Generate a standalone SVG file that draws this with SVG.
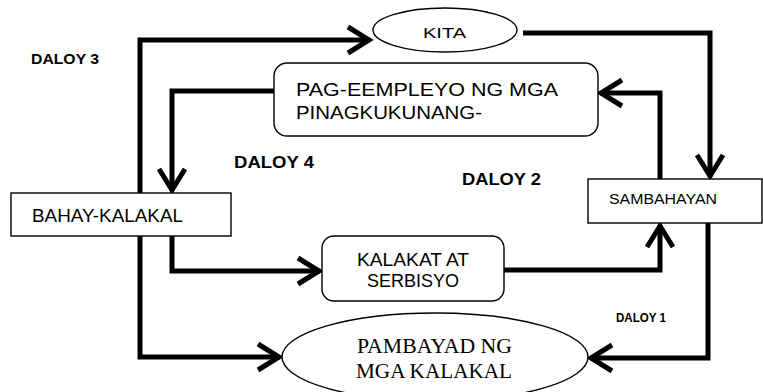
<svg xmlns="http://www.w3.org/2000/svg" width="763" height="392" viewBox="0 0 763 392">
  <style>
    .node { fill: #ffffff; stroke: #000000; stroke-width: 1.4; }
    .sans { font-family: "Liberation Sans", Arial, sans-serif; fill: #000000; }
    .serif { font-family: "Liberation Serif", "Times New Roman", serif; fill: #000000; }
    .bold { font-weight: bold; }
    .flow { fill: none; stroke: #000000; stroke-width: 5; stroke-linejoin: miter; marker-end: url(#chev); }
  </style>
  <defs>
    <marker id="chev" markerUnits="userSpaceOnUse" markerWidth="40" markerHeight="40" viewBox="-30 -20 40 40" refX="0" refY="0" orient="auto" overflow="visible">
      <path d="M-22,-13 L-1,0 L-22,13" fill="none" stroke="#000000" stroke-width="5" stroke-linejoin="miter"/>
    </marker>
  </defs>

  <rect width="763" height="392" fill="#ffffff"/>

  <g id="connectors">
    <path class="flow" d="M140,193 V40 H370"/>
    <path class="flow" d="M140,236 V357 H280"/>
    <path class="flow" d="M274,91 H172 V191"/>
    <path class="flow" d="M172,236 V271 H320"/>
    <path class="flow" d="M523,33 H710 V177"/>
    <path class="flow" d="M660,179 V93 H600"/>
    <path class="flow" d="M504,270 H660 V225"/>
    <path class="flow" d="M708,223 V358 H590"/>
  </g>

  <g id="kita">
    <ellipse class="node" cx="445" cy="30" rx="72" ry="22"/>
    <text class="sans" x="423" y="38" font-size="15" textLength="43" lengthAdjust="spacingAndGlyphs">KITA</text>
  </g>

  <g id="pag-eempleyo">
    <rect class="node" x="274" y="63" width="324" height="73" rx="13" ry="13"/>
    <text class="sans" x="296" y="96" font-size="19" textLength="262" lengthAdjust="spacingAndGlyphs">PAG-EEMPLEYO NG MGA</text>
    <text class="sans" x="296" y="119" font-size="19" textLength="186" lengthAdjust="spacingAndGlyphs">PINAGKUKUNANG-</text>
  </g>

  <g id="bahay-kalakal">
    <rect class="node" x="11" y="193" width="220" height="43"/>
    <text class="sans" x="32" y="222" font-size="18" textLength="151" lengthAdjust="spacingAndGlyphs">BAHAY-KALAKAL</text>
  </g>

  <g id="sambahayan">
    <rect class="node" x="588" y="179" width="174" height="44"/>
    <text class="sans" x="609" y="204" font-size="15" textLength="108" lengthAdjust="spacingAndGlyphs">SAMBAHAYAN</text>
  </g>

  <g id="kalakat-at-serbisyo">
    <rect class="node" x="322" y="236" width="182" height="65" rx="12" ry="12"/>
    <text class="sans" x="357" y="266" font-size="18" textLength="112" lengthAdjust="spacingAndGlyphs">KALAKAT AT</text>
    <text class="sans" x="367" y="287" font-size="18" textLength="92" lengthAdjust="spacingAndGlyphs">SERBISYO</text>
  </g>

  <g id="pambayad">
    <ellipse class="node" cx="435" cy="357" rx="153" ry="44"/>
    <text class="serif" x="357" y="353" font-size="20" textLength="155" lengthAdjust="spacingAndGlyphs">PAMBAYAD NG</text>
    <text class="serif" x="356" y="378" font-size="20" textLength="156" lengthAdjust="spacingAndGlyphs">MGA KALAKAL</text>
  </g>

  <g id="labels">
    <text class="sans bold" x="31" y="64" font-size="15" textLength="68" lengthAdjust="spacingAndGlyphs">DALOY 3</text>
    <text class="sans bold" x="234" y="168" font-size="17" textLength="80" lengthAdjust="spacingAndGlyphs">DALOY 4</text>
    <text class="sans bold" x="462" y="185" font-size="17" textLength="79" lengthAdjust="spacingAndGlyphs">DALOY 2</text>
    <text class="sans bold" x="616" y="322" font-size="12.5" textLength="50" lengthAdjust="spacingAndGlyphs">DALOY 1</text>
  </g>
</svg>
